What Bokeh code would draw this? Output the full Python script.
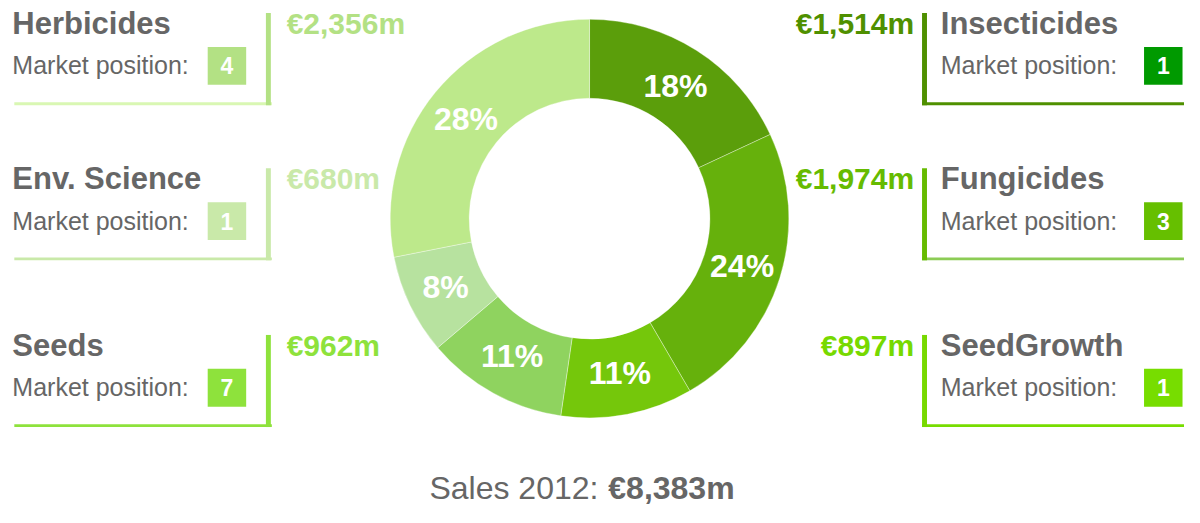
import math
from bokeh.plotting import figure
from bokeh.models import Range1d, ColumnDataSource
from bokeh.core.properties import value
from bokeh.embed import file_html
from bokeh.resources import INLINE

# ---------------- data ----------------
segments = ["Insecticides", "Fungicides", "SeedGrowth", "Seeds", "Env. Science", "Herbicides"]
sales = [1514, 1974, 897, 962, 680, 2356]          # EUR m
market_pos = [1, 3, 1, 7, 1, 4]
total_label = "€8,383m"
sales_year = "Sales 2012:"

# ---------------- styles ----------------
slice_colors = ["#5b9e0b", "#66b10c", "#75c70b", "#8fd35f", "#b7e29f", "#bde98b"]
text_colors = ["#4f9000", "#66bb00", "#77d900", "#8ee23c", "#c9e9a9", "#b3e184"]
box_colors = ["#009a00", "#66bf00", "#77dd00", "#8ee23c", "#c9e9a9", "#b3e184"]
hline_colors = ["#4f9000", "#8ccc55", "#77dd00", "#8ee23c", "#c9e9a9", "#d9f7b3"]
sides = ["right", "right", "right", "left", "left", "left"]
rows = [0, 1, 2, 2, 1, 0]
GRAY = "#666666"
FONT = "Liberation Sans"

# ---------------- layout (reference pixel coordinates) ----------------
W, H = 1200, 523
row_tops = [13, 173, 345]
CX, CY = 597, 225
R_OUT, R_IN, R_LBL = 202, 122, 162

def Y(y):  # reference pixel y -> data y
    return H - y

p = figure(width=1184, height=507, output_backend="svg", toolbar_location=None,
           x_range=Range1d(0, W), y_range=Range1d(0, H), min_border=0)
p.axis.visible = False
p.grid.visible = False
p.outline_line_color = None
p.background_fill_color = "white"
p.border_fill_color = "white"

# ---------------- panels ----------------
for i, name in enumerate(segments):
    T = row_tops[rows[i]]
    amount = f"€{sales[i]:,}m"
    if sides[i] == "left":
        tx, vx0, vx1, hx0, hx1 = 12, 269, 274, 14, 275
        bx0, bx1 = 210, 249
        ax, aalign = 290, "left"
    else:
        tx, vx0, vx1, hx0, hx1 = 953, 934, 939, 934, 1200
        bx0, bx1 = 1159, 1198
        ax, aalign = 926, "right"
    p.quad(left=[hx0], right=[hx1], top=[Y(T + 92)], bottom=[Y(T + 95)],
           fill_color=hline_colors[i], line_color=None)
    p.quad(left=[vx0], right=[vx1], top=[Y(T)], bottom=[Y(T + 95)],
           fill_color=text_colors[i], line_color=None)
    p.text(x=[tx], y=[Y(T + 10.5)], text=[name], text_color=GRAY, text_font=value(FONT),
           text_font_style="bold", text_font_size="31px", text_baseline="middle")
    p.text(x=[tx], y=[Y(T + 54)], text=["Market position:"], text_color=GRAY,
           text_font=value(FONT), text_font_size="25px", text_baseline="middle")
    p.quad(left=[bx0], right=[bx1], top=[Y(T + 35)], bottom=[Y(T + 74)],
           fill_color=box_colors[i], line_color=None)
    p.text(x=[(bx0 + bx1) / 2], y=[Y(T + 54.5)], text=[str(market_pos[i])], text_color="white",
           text_font=value(FONT), text_font_style="bold", text_font_size="23px",
           text_align="center", text_baseline="middle")
    p.text(x=[ax], y=[Y(T + 10.5)], text=[amount], text_color=text_colors[i],
           text_font=value(FONT), text_font_style="bold", text_font_size="30px",
           text_align=aalign, text_baseline="middle")

# ---------------- donut (drawn over the amount labels) ----------------
total = sum(sales)
fr = [s / total for s in sales]
cum = [0.0]
for f in fr:
    cum.append(cum[-1] + f)
start = [math.pi / 2 - 2 * math.pi * c for c in cum[:-1]]
end = [math.pi / 2 - 2 * math.pi * c for c in cum[1:]]
mid = [(a + b) / 2 for a, b in zip(start, end)]
src = ColumnDataSource(dict(start=start, end=end, color=slice_colors,
                            x=[CX] * 6, y=[Y(CY)] * 6))
p.annular_wedge(x="x", y="y", inner_radius=R_IN, outer_radius=R_OUT,
                start_angle="start", end_angle="end", direction="clock",
                fill_color="color", line_color="white", line_alpha=0.35, line_width=1,
                source=src)
pct = [f"{round(f * 100)}%" for f in fr]
p.text(x=[CX + R_LBL * math.cos(m) for m in mid], y=[Y(CY) + R_LBL * math.sin(m) for m in mid],
       text=pct, text_color="white", text_font=value(FONT), text_font_style="bold",
       text_font_size="32px", text_align="center", text_baseline="middle")

# ---------------- total ----------------
p.text(x=[606], y=[Y(503)], text=[sales_year], text_color=GRAY, text_font=value(FONT),
       text_font_size="32px", text_align="right", text_baseline="middle")
p.text(x=[616], y=[Y(503)], text=[total_label], text_color=GRAY, text_font=value(FONT),
       text_font_style="bold", text_font_size="32px", text_align="left", text_baseline="middle")

open("out.html", "w").write(file_html(p, INLINE))
